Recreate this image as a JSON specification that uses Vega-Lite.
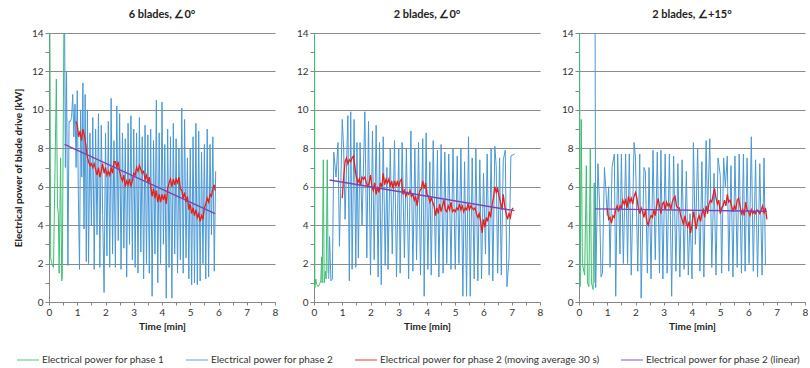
{
"$schema":"https://vega.github.io/schema/vega-lite/v6.json",
"padding":{"left":13,"top":9,"right":0,"bottom":0},
"config":{"font":"Lato","view":{"stroke":null},
"axis":{"domainColor":"#868686","tickColor":"#868686","gridColor":"#8c8c8c","gridWidth":1.2,"labelFontSize":10,"labelColor":"#333333","titleFontSize":10,"titleFontWeight":"bold","titleColor":"#222222"},
"title":{"fontSize":11,"fontWeight":"bold","color":"#222222","offset":8},
"legend":{"orient":"none","legendX":-33,"legendY":315,"direction":"horizontal","symbolType":"stroke","symbolSize":484,"symbolStrokeWidth":1.5,"symbolOpacity":0.6,"labelFontSize":10,"labelColor":"#333333","labelLimit":0,"columnPadding":18,"labelOffset":2}},
"data":{"values":[
{"p":1,"s":"g","x":0.03,"y":15},{"p":1,"s":"g","x":0.06,"y":2.3},{"p":1,"s":"g","x":0.1,"y":2.0},{"p":1,"s":"g","x":0.16,"y":1.8},{"p":1,"s":"g","x":0.26,"y":11.6},{"p":1,"s":"g","x":0.3,"y":5.0},{"p":1,"s":"g","x":0.33,"y":4.6},{"p":1,"s":"g","x":0.36,"y":1.5},{"p":1,"s":"g","x":0.41,"y":7.5},{"p":1,"s":"g","x":0.45,"y":1.1},{"p":1,"s":"g","x":0.47,"y":1.3},{"p":1,"s":"g","x":0.53,"y":15},
{"p":1,"s":"b","x":0.55,"y":15},{"p":1,"s":"b","x":0.58,"y":7.0},{"p":1,"s":"b","x":0.62,"y":12.0},{"p":1,"s":"b","x":0.67,"y":1.9},{"p":1,"s":"b","x":0.71,"y":9.4},{"p":1,"s":"b","x":0.76,"y":9.4},{"p":1,"s":"b","x":0.8,"y":9.6},{"p":1,"s":"b","x":0.84,"y":10.8},{"p":1,"s":"b","x":0.88,"y":8.6},{"p":1,"s":"b","x":0.92,"y":10.3},{"p":1,"s":"b","x":0.96,"y":7.0},{"p":1,"s":"b","x":1.0,"y":11.0},{"p":1,"s":"b","x":1.04,"y":5.4},{"p":1,"s":"b","x":1.08,"y":1.7},{"p":1,"s":"b","x":1.12,"y":10.0},{"p":1,"s":"b","x":1.16,"y":6.5},{"p":1,"s":"b","x":1.2,"y":11.4},{"p":1,"s":"b","x":1.24,"y":3.8},{"p":1,"s":"b","x":1.28,"y":10.8},{"p":1,"s":"b","x":1.32,"y":2.1},{"p":1,"s":"b","x":1.36,"y":10.0},{"p":1,"s":"b","x":1.4,"y":2.0},{"p":1,"s":"b","x":1.45,"y":8.8},{"p":1,"s":"b","x":1.5,"y":4.0},{"p":1,"s":"b","x":1.55,"y":9.6},{"p":1,"s":"b","x":1.6,"y":1.7},{"p":1,"s":"b","x":1.65,"y":9.0},{"p":1,"s":"b","x":1.7,"y":3.5},{"p":1,"s":"b","x":1.75,"y":9.8},{"p":1,"s":"b","x":1.8,"y":1.8},{"p":1,"s":"b","x":1.85,"y":9.2},{"p":1,"s":"b","x":1.9,"y":4.5},{"p":1,"s":"b","x":1.95,"y":0.5},{"p":1,"s":"b","x":2.0,"y":8.8},{"p":1,"s":"b","x":2.05,"y":2.4},{"p":1,"s":"b","x":2.1,"y":9.4},{"p":1,"s":"b","x":2.15,"y":1.8},{"p":1,"s":"b","x":2.2,"y":10.6},{"p":1,"s":"b","x":2.25,"y":2.5},{"p":1,"s":"b","x":2.3,"y":8.4},{"p":1,"s":"b","x":2.35,"y":1.8},{"p":1,"s":"b","x":2.4,"y":10.2},{"p":1,"s":"b","x":2.45,"y":3.2},{"p":1,"s":"b","x":2.5,"y":9.8},{"p":1,"s":"b","x":2.55,"y":1.7},{"p":1,"s":"b","x":2.6,"y":8.8},{"p":1,"s":"b","x":2.65,"y":2.8},{"p":1,"s":"b","x":2.7,"y":8.5},{"p":1,"s":"b","x":2.75,"y":1.3},{"p":1,"s":"b","x":2.8,"y":9.3},{"p":1,"s":"b","x":2.85,"y":3.0},{"p":1,"s":"b","x":2.9,"y":9.7},{"p":1,"s":"b","x":2.95,"y":2.2},{"p":1,"s":"b","x":3.0,"y":9.0},{"p":1,"s":"b","x":3.05,"y":1.8},{"p":1,"s":"b","x":3.1,"y":8.8},{"p":1,"s":"b","x":3.15,"y":1.5},{"p":1,"s":"b","x":3.2,"y":9.6},{"p":1,"s":"b","x":3.25,"y":2.6},{"p":1,"s":"b","x":3.3,"y":8.6},{"p":1,"s":"b","x":3.35,"y":1.2},{"p":1,"s":"b","x":3.4,"y":9.2},{"p":1,"s":"b","x":3.45,"y":2.0},{"p":1,"s":"b","x":3.5,"y":8.7},{"p":1,"s":"b","x":3.55,"y":1.5},{"p":1,"s":"b","x":3.6,"y":9.0},{"p":1,"s":"b","x":3.65,"y":0.3},{"p":1,"s":"b","x":3.7,"y":8.4},{"p":1,"s":"b","x":3.75,"y":2.5},{"p":1,"s":"b","x":3.8,"y":10.5},{"p":1,"s":"b","x":3.85,"y":1.0},{"p":1,"s":"b","x":3.9,"y":8.8},{"p":1,"s":"b","x":3.95,"y":2.0},{"p":1,"s":"b","x":4.0,"y":10.4},{"p":1,"s":"b","x":4.05,"y":3.0},{"p":1,"s":"b","x":4.1,"y":8.2},{"p":1,"s":"b","x":4.15,"y":0.2},{"p":1,"s":"b","x":4.2,"y":9.0},{"p":1,"s":"b","x":4.25,"y":1.8},{"p":1,"s":"b","x":4.3,"y":8.6},{"p":1,"s":"b","x":4.35,"y":0.2},{"p":1,"s":"b","x":4.4,"y":9.3},{"p":1,"s":"b","x":4.45,"y":2.5},{"p":1,"s":"b","x":4.5,"y":8.5},{"p":1,"s":"b","x":4.55,"y":1.5},{"p":1,"s":"b","x":4.6,"y":8.0},{"p":1,"s":"b","x":4.65,"y":2.2},{"p":1,"s":"b","x":4.7,"y":10.1},{"p":1,"s":"b","x":4.75,"y":1.5},{"p":1,"s":"b","x":4.8,"y":9.5},{"p":1,"s":"b","x":4.85,"y":2.3},{"p":1,"s":"b","x":4.9,"y":7.5},{"p":1,"s":"b","x":4.95,"y":1.2},{"p":1,"s":"b","x":5.0,"y":8.0},{"p":1,"s":"b","x":5.05,"y":0.9},{"p":1,"s":"b","x":5.1,"y":8.6},{"p":1,"s":"b","x":5.15,"y":1.0},{"p":1,"s":"b","x":5.2,"y":9.3},{"p":1,"s":"b","x":5.25,"y":0.9},{"p":1,"s":"b","x":5.3,"y":8.9},{"p":1,"s":"b","x":5.35,"y":1.1},{"p":1,"s":"b","x":5.4,"y":7.8},{"p":1,"s":"b","x":5.45,"y":2.0},{"p":1,"s":"b","x":5.5,"y":8.2},{"p":1,"s":"b","x":5.55,"y":1.2},{"p":1,"s":"b","x":5.6,"y":9.0},{"p":1,"s":"b","x":5.65,"y":1.3},{"p":1,"s":"b","x":5.7,"y":8.2},{"p":1,"s":"b","x":5.75,"y":3.5},{"p":1,"s":"b","x":5.8,"y":8.6},{"p":1,"s":"b","x":5.85,"y":1.6},{"p":1,"s":"b","x":5.9,"y":6.8},
{"p":1,"s":"r","x":0.95,"y":9.4},{"p":1,"s":"r","x":1.0,"y":9.2},{"p":1,"s":"r","x":1.05,"y":8.6},{"p":1,"s":"r","x":1.1,"y":8.9},{"p":1,"s":"r","x":1.15,"y":8.4},{"p":1,"s":"r","x":1.2,"y":9.0},{"p":1,"s":"r","x":1.25,"y":8.7},{"p":1,"s":"r","x":1.3,"y":8.2},{"p":1,"s":"r","x":1.35,"y":7.6},{"p":1,"s":"r","x":1.4,"y":7.3},{"p":1,"s":"r","x":1.45,"y":7.1},{"p":1,"s":"r","x":1.5,"y":7.2},{"p":1,"s":"r","x":1.55,"y":7.0},{"p":1,"s":"r","x":1.6,"y":7.2},{"p":1,"s":"r","x":1.65,"y":6.9},{"p":1,"s":"r","x":1.7,"y":6.6},{"p":1,"s":"r","x":1.75,"y":7.0},{"p":1,"s":"r","x":1.8,"y":6.5},{"p":1,"s":"r","x":1.85,"y":6.8},{"p":1,"s":"r","x":1.9,"y":7.2},{"p":1,"s":"r","x":1.95,"y":6.7},{"p":1,"s":"r","x":2.0,"y":7.0},{"p":1,"s":"r","x":2.05,"y":6.6},{"p":1,"s":"r","x":2.1,"y":6.8},{"p":1,"s":"r","x":2.15,"y":6.6},{"p":1,"s":"r","x":2.2,"y":7.0},{"p":1,"s":"r","x":2.25,"y":6.7},{"p":1,"s":"r","x":2.3,"y":7.3},{"p":1,"s":"r","x":2.35,"y":7.3},{"p":1,"s":"r","x":2.4,"y":7.0},{"p":1,"s":"r","x":2.45,"y":7.3},{"p":1,"s":"r","x":2.5,"y":6.8},{"p":1,"s":"r","x":2.55,"y":6.5},{"p":1,"s":"r","x":2.6,"y":6.3},{"p":1,"s":"r","x":2.65,"y":6.6},{"p":1,"s":"r","x":2.7,"y":6.0},{"p":1,"s":"r","x":2.75,"y":6.3},{"p":1,"s":"r","x":2.8,"y":6.1},{"p":1,"s":"r","x":2.85,"y":6.4},{"p":1,"s":"r","x":2.9,"y":6.0},{"p":1,"s":"r","x":2.95,"y":6.3},{"p":1,"s":"r","x":3.0,"y":6.7},{"p":1,"s":"r","x":3.05,"y":6.6},{"p":1,"s":"r","x":3.1,"y":7.0},{"p":1,"s":"r","x":3.15,"y":6.8},{"p":1,"s":"r","x":3.2,"y":7.1},{"p":1,"s":"r","x":3.25,"y":6.9},{"p":1,"s":"r","x":3.3,"y":6.7},{"p":1,"s":"r","x":3.35,"y":6.8},{"p":1,"s":"r","x":3.4,"y":6.4},{"p":1,"s":"r","x":3.45,"y":6.6},{"p":1,"s":"r","x":3.5,"y":6.2},{"p":1,"s":"r","x":3.55,"y":6.5},{"p":1,"s":"r","x":3.6,"y":6.0},{"p":1,"s":"r","x":3.65,"y":5.5},{"p":1,"s":"r","x":3.7,"y":5.9},{"p":1,"s":"r","x":3.75,"y":5.4},{"p":1,"s":"r","x":3.8,"y":5.8},{"p":1,"s":"r","x":3.85,"y":5.2},{"p":1,"s":"r","x":3.9,"y":5.6},{"p":1,"s":"r","x":3.95,"y":5.2},{"p":1,"s":"r","x":4.0,"y":5.6},{"p":1,"s":"r","x":4.05,"y":5.3},{"p":1,"s":"r","x":4.1,"y":5.6},{"p":1,"s":"r","x":4.15,"y":5.1},{"p":1,"s":"r","x":4.2,"y":5.9},{"p":1,"s":"r","x":4.25,"y":6.2},{"p":1,"s":"r","x":4.3,"y":6.4},{"p":1,"s":"r","x":4.35,"y":6.0},{"p":1,"s":"r","x":4.4,"y":6.4},{"p":1,"s":"r","x":4.45,"y":6.1},{"p":1,"s":"r","x":4.5,"y":6.4},{"p":1,"s":"r","x":4.55,"y":6.2},{"p":1,"s":"r","x":4.6,"y":6.5},{"p":1,"s":"r","x":4.65,"y":5.9},{"p":1,"s":"r","x":4.7,"y":5.8},{"p":1,"s":"r","x":4.75,"y":5.4},{"p":1,"s":"r","x":4.8,"y":5.7},{"p":1,"s":"r","x":4.85,"y":5.2},{"p":1,"s":"r","x":4.9,"y":5.5},{"p":1,"s":"r","x":4.95,"y":4.8},{"p":1,"s":"r","x":5.0,"y":5.1},{"p":1,"s":"r","x":5.05,"y":4.6},{"p":1,"s":"r","x":5.1,"y":4.9},{"p":1,"s":"r","x":5.15,"y":4.5},{"p":1,"s":"r","x":5.2,"y":4.8},{"p":1,"s":"r","x":5.25,"y":4.4},{"p":1,"s":"r","x":5.3,"y":4.6},{"p":1,"s":"r","x":5.35,"y":4.2},{"p":1,"s":"r","x":5.4,"y":4.5},{"p":1,"s":"r","x":5.45,"y":4.3},{"p":1,"s":"r","x":5.5,"y":4.9},{"p":1,"s":"r","x":5.55,"y":5.1},{"p":1,"s":"r","x":5.6,"y":5.4},{"p":1,"s":"r","x":5.65,"y":5.2},{"p":1,"s":"r","x":5.7,"y":5.6},{"p":1,"s":"r","x":5.75,"y":5.5},{"p":1,"s":"r","x":5.8,"y":5.9},{"p":1,"s":"r","x":5.85,"y":6.1},{"p":1,"s":"r","x":5.88,"y":5.8},
{"p":1,"s":"l","x":0.55,"y":8.2},{"p":1,"s":"l","x":5.88,"y":4.6},
{"p":2,"s":"g","x":0.02,"y":15},{"p":2,"s":"g","x":0.03,"y":0.75},{"p":2,"s":"g","x":0.06,"y":1.2},{"p":2,"s":"g","x":0.1,"y":0.9},{"p":2,"s":"g","x":0.15,"y":0.8},{"p":2,"s":"g","x":0.2,"y":0.95},{"p":2,"s":"g","x":0.24,"y":1.1},{"p":2,"s":"g","x":0.27,"y":2.35},{"p":2,"s":"g","x":0.29,"y":1.0},{"p":2,"s":"g","x":0.33,"y":7.4},{"p":2,"s":"g","x":0.36,"y":1.0},{"p":2,"s":"g","x":0.4,"y":1.6},{"p":2,"s":"g","x":0.43,"y":1.2},{"p":2,"s":"g","x":0.47,"y":7.4},{"p":2,"s":"g","x":0.5,"y":1.5},
{"p":2,"s":"b","x":0.52,"y":1.2},{"p":2,"s":"b","x":0.55,"y":3.4},{"p":2,"s":"b","x":0.6,"y":1.1},{"p":2,"s":"b","x":0.65,"y":1.2},{"p":2,"s":"b","x":0.7,"y":7.8},{"p":2,"s":"b","x":0.78,"y":6.5},{"p":2,"s":"b","x":0.85,"y":8.3},{"p":2,"s":"b","x":0.9,"y":2.9},{"p":2,"s":"b","x":1.0,"y":9.5},{"p":2,"s":"b","x":1.05,"y":8.0},{"p":2,"s":"b","x":1.1,"y":4.3},{"p":2,"s":"b","x":1.2,"y":9.7},{"p":2,"s":"b","x":1.25,"y":1.1},{"p":2,"s":"b","x":1.3,"y":9.9},{"p":2,"s":"b","x":1.35,"y":1.7},{"p":2,"s":"b","x":1.42,"y":9.5},{"p":2,"s":"b","x":1.48,"y":1.8},{"p":2,"s":"b","x":1.52,"y":8.3},{"p":2,"s":"b","x":1.57,"y":2.3},{"p":2,"s":"b","x":1.63,"y":8.3},{"p":2,"s":"b","x":1.7,"y":4.0},{"p":2,"s":"b","x":1.8,"y":9.9},{"p":2,"s":"b","x":1.87,"y":2.3},{"p":2,"s":"b","x":1.93,"y":9.4},{"p":2,"s":"b","x":2.0,"y":1.4},{"p":2,"s":"b","x":2.07,"y":8.9},{"p":2,"s":"b","x":2.13,"y":2.2},{"p":2,"s":"b","x":2.2,"y":9.2},{"p":2,"s":"b","x":2.27,"y":1.3},{"p":2,"s":"b","x":2.32,"y":8.3},{"p":2,"s":"b","x":2.38,"y":0.9},{"p":2,"s":"b","x":2.45,"y":8.6},{"p":2,"s":"b","x":2.52,"y":1.9},{"p":2,"s":"b","x":2.58,"y":7.0},{"p":2,"s":"b","x":2.62,"y":1.7},{"p":2,"s":"b","x":2.7,"y":8.0},{"p":2,"s":"b","x":2.77,"y":2.5},{"p":2,"s":"b","x":2.85,"y":8.4},{"p":2,"s":"b","x":2.92,"y":1.3},{"p":2,"s":"b","x":3.0,"y":8.0},{"p":2,"s":"b","x":3.05,"y":1.5},{"p":2,"s":"b","x":3.12,"y":8.3},{"p":2,"s":"b","x":3.2,"y":2.3},{"p":2,"s":"b","x":3.27,"y":8.0},{"p":2,"s":"b","x":3.35,"y":1.2},{"p":2,"s":"b","x":3.43,"y":8.9},{"p":2,"s":"b","x":3.5,"y":1.6},{"p":2,"s":"b","x":3.57,"y":8.0},{"p":2,"s":"b","x":3.63,"y":2.2},{"p":2,"s":"b","x":3.7,"y":8.3},{"p":2,"s":"b","x":3.77,"y":1.4},{"p":2,"s":"b","x":3.85,"y":8.5},{"p":2,"s":"b","x":3.9,"y":0.3},{"p":2,"s":"b","x":3.97,"y":8.8},{"p":2,"s":"b","x":4.03,"y":1.7},{"p":2,"s":"b","x":4.1,"y":7.3},{"p":2,"s":"b","x":4.15,"y":1.4},{"p":2,"s":"b","x":4.22,"y":8.4},{"p":2,"s":"b","x":4.3,"y":2.0},{"p":2,"s":"b","x":4.37,"y":7.9},{"p":2,"s":"b","x":4.42,"y":1.3},{"p":2,"s":"b","x":4.5,"y":8.2},{"p":2,"s":"b","x":4.57,"y":1.5},{"p":2,"s":"b","x":4.63,"y":7.8},{"p":2,"s":"b","x":4.7,"y":2.0},{"p":2,"s":"b","x":4.77,"y":7.7},{"p":2,"s":"b","x":4.85,"y":1.7},{"p":2,"s":"b","x":4.92,"y":8.0},{"p":2,"s":"b","x":5.0,"y":1.7},{"p":2,"s":"b","x":5.07,"y":7.6},{"p":2,"s":"b","x":5.13,"y":2.0},{"p":2,"s":"b","x":5.2,"y":8.0},{"p":2,"s":"b","x":5.27,"y":0.3},{"p":2,"s":"b","x":5.33,"y":7.3},{"p":2,"s":"b","x":5.4,"y":0.3},{"p":2,"s":"b","x":5.47,"y":8.6},{"p":2,"s":"b","x":5.53,"y":0.3},{"p":2,"s":"b","x":5.6,"y":7.5},{"p":2,"s":"b","x":5.67,"y":1.2},{"p":2,"s":"b","x":5.73,"y":8.0},{"p":2,"s":"b","x":5.8,"y":1.1},{"p":2,"s":"b","x":5.87,"y":7.4},{"p":2,"s":"b","x":5.93,"y":1.2},{"p":2,"s":"b","x":6.0,"y":6.7},{"p":2,"s":"b","x":6.07,"y":2.5},{"p":2,"s":"b","x":6.13,"y":7.7},{"p":2,"s":"b","x":6.2,"y":1.4},{"p":2,"s":"b","x":6.27,"y":8.0},{"p":2,"s":"b","x":6.33,"y":1.1},{"p":2,"s":"b","x":6.4,"y":8.1},{"p":2,"s":"b","x":6.45,"y":7.1},{"p":2,"s":"b","x":6.5,"y":1.5},{"p":2,"s":"b","x":6.57,"y":7.5},{"p":2,"s":"b","x":6.63,"y":1.4},{"p":2,"s":"b","x":6.7,"y":7.4},{"p":2,"s":"b","x":6.77,"y":7.9},{"p":2,"s":"b","x":6.83,"y":0.8},{"p":2,"s":"b","x":6.9,"y":2.2},{"p":2,"s":"b","x":6.97,"y":7.6},{"p":2,"s":"b","x":7.1,"y":7.7},
{"p":2,"s":"r","x":1.0,"y":5.4},{"p":2,"s":"r","x":1.05,"y":6.5},{"p":2,"s":"r","x":1.1,"y":7.3},{"p":2,"s":"r","x":1.15,"y":7.5},{"p":2,"s":"r","x":1.2,"y":7.2},{"p":2,"s":"r","x":1.25,"y":7.4},{"p":2,"s":"r","x":1.3,"y":7.3},{"p":2,"s":"r","x":1.35,"y":7.5},{"p":2,"s":"r","x":1.4,"y":7.6},{"p":2,"s":"r","x":1.45,"y":7.0},{"p":2,"s":"r","x":1.5,"y":6.5},{"p":2,"s":"r","x":1.55,"y":6.2},{"p":2,"s":"r","x":1.6,"y":6.4},{"p":2,"s":"r","x":1.65,"y":6.1},{"p":2,"s":"r","x":1.7,"y":6.5},{"p":2,"s":"r","x":1.75,"y":6.4},{"p":2,"s":"r","x":1.8,"y":6.5},{"p":2,"s":"r","x":1.85,"y":6.2},{"p":2,"s":"r","x":1.9,"y":6.0},{"p":2,"s":"r","x":1.95,"y":6.2},{"p":2,"s":"r","x":2.0,"y":6.6},{"p":2,"s":"r","x":2.05,"y":6.0},{"p":2,"s":"r","x":2.1,"y":5.8},{"p":2,"s":"r","x":2.15,"y":6.2},{"p":2,"s":"r","x":2.2,"y":5.6},{"p":2,"s":"r","x":2.25,"y":6.0},{"p":2,"s":"r","x":2.3,"y":5.7},{"p":2,"s":"r","x":2.35,"y":6.2},{"p":2,"s":"r","x":2.4,"y":6.0},{"p":2,"s":"r","x":2.45,"y":6.7},{"p":2,"s":"r","x":2.5,"y":6.1},{"p":2,"s":"r","x":2.55,"y":6.4},{"p":2,"s":"r","x":2.6,"y":6.2},{"p":2,"s":"r","x":2.65,"y":6.4},{"p":2,"s":"r","x":2.7,"y":6.0},{"p":2,"s":"r","x":2.75,"y":6.3},{"p":2,"s":"r","x":2.8,"y":5.9},{"p":2,"s":"r","x":2.85,"y":6.3},{"p":2,"s":"r","x":2.9,"y":6.0},{"p":2,"s":"r","x":2.95,"y":6.3},{"p":2,"s":"r","x":3.0,"y":6.0},{"p":2,"s":"r","x":3.05,"y":6.3},{"p":2,"s":"r","x":3.1,"y":6.4},{"p":2,"s":"r","x":3.15,"y":5.6},{"p":2,"s":"r","x":3.2,"y":5.8},{"p":2,"s":"r","x":3.25,"y":5.5},{"p":2,"s":"r","x":3.3,"y":5.7},{"p":2,"s":"r","x":3.35,"y":5.6},{"p":2,"s":"r","x":3.4,"y":5.8},{"p":2,"s":"r","x":3.45,"y":5.5},{"p":2,"s":"r","x":3.5,"y":5.6},{"p":2,"s":"r","x":3.55,"y":5.3},{"p":2,"s":"r","x":3.6,"y":5.5},{"p":2,"s":"r","x":3.65,"y":5.0},{"p":2,"s":"r","x":3.7,"y":5.5},{"p":2,"s":"r","x":3.75,"y":5.8},{"p":2,"s":"r","x":3.8,"y":5.9},{"p":2,"s":"r","x":3.85,"y":6.3},{"p":2,"s":"r","x":3.9,"y":5.9},{"p":2,"s":"r","x":3.95,"y":6.2},{"p":2,"s":"r","x":4.0,"y":5.6},{"p":2,"s":"r","x":4.05,"y":5.5},{"p":2,"s":"r","x":4.1,"y":5.2},{"p":2,"s":"r","x":4.15,"y":5.4},{"p":2,"s":"r","x":4.2,"y":5.2},{"p":2,"s":"r","x":4.25,"y":5.0},{"p":2,"s":"r","x":4.3,"y":4.5},{"p":2,"s":"r","x":4.35,"y":4.9},{"p":2,"s":"r","x":4.4,"y":4.6},{"p":2,"s":"r","x":4.45,"y":5.1},{"p":2,"s":"r","x":4.5,"y":4.7},{"p":2,"s":"r","x":4.55,"y":5.0},{"p":2,"s":"r","x":4.6,"y":5.3},{"p":2,"s":"r","x":4.65,"y":4.8},{"p":2,"s":"r","x":4.7,"y":4.7},{"p":2,"s":"r","x":4.75,"y":5.0},{"p":2,"s":"r","x":4.8,"y":4.8},{"p":2,"s":"r","x":4.85,"y":5.2},{"p":2,"s":"r","x":4.9,"y":4.7},{"p":2,"s":"r","x":4.95,"y":4.8},{"p":2,"s":"r","x":5.0,"y":4.7},{"p":2,"s":"r","x":5.05,"y":4.9},{"p":2,"s":"r","x":5.1,"y":4.8},{"p":2,"s":"r","x":5.15,"y":5.1},{"p":2,"s":"r","x":5.2,"y":4.8},{"p":2,"s":"r","x":5.25,"y":5.0},{"p":2,"s":"r","x":5.3,"y":4.7},{"p":2,"s":"r","x":5.35,"y":4.9},{"p":2,"s":"r","x":5.4,"y":4.8},{"p":2,"s":"r","x":5.45,"y":5.1},{"p":2,"s":"r","x":5.5,"y":4.8},{"p":2,"s":"r","x":5.55,"y":5.0},{"p":2,"s":"r","x":5.6,"y":4.9},{"p":2,"s":"r","x":5.65,"y":4.8},{"p":2,"s":"r","x":5.7,"y":4.9},{"p":2,"s":"r","x":5.75,"y":4.6},{"p":2,"s":"r","x":5.8,"y":4.4},{"p":2,"s":"r","x":5.85,"y":4.6},{"p":2,"s":"r","x":5.9,"y":4.2},{"p":2,"s":"r","x":5.95,"y":3.6},{"p":2,"s":"r","x":6.0,"y":4.3},{"p":2,"s":"r","x":6.05,"y":3.9},{"p":2,"s":"r","x":6.1,"y":4.4},{"p":2,"s":"r","x":6.15,"y":4.2},{"p":2,"s":"r","x":6.2,"y":4.7},{"p":2,"s":"r","x":6.25,"y":4.4},{"p":2,"s":"r","x":6.3,"y":5.0},{"p":2,"s":"r","x":6.35,"y":5.4},{"p":2,"s":"r","x":6.4,"y":6.0},{"p":2,"s":"r","x":6.45,"y":5.7},{"p":2,"s":"r","x":6.5,"y":5.9},{"p":2,"s":"r","x":6.55,"y":5.5},{"p":2,"s":"r","x":6.6,"y":5.2},{"p":2,"s":"r","x":6.65,"y":4.8},{"p":2,"s":"r","x":6.7,"y":5.6},{"p":2,"s":"r","x":6.75,"y":5.0},{"p":2,"s":"r","x":6.8,"y":4.6},{"p":2,"s":"r","x":6.85,"y":4.3},{"p":2,"s":"r","x":6.9,"y":4.6},{"p":2,"s":"r","x":6.95,"y":4.4},{"p":2,"s":"r","x":7.0,"y":4.8},{"p":2,"s":"r","x":7.05,"y":4.9},
{"p":2,"s":"l","x":0.55,"y":6.35},{"p":2,"s":"l","x":7.1,"y":4.75},
{"p":3,"s":"g","x":0.02,"y":15},{"p":3,"s":"g","x":0.04,"y":0.8},{"p":3,"s":"g","x":0.08,"y":9.5},{"p":3,"s":"g","x":0.12,"y":2.0},{"p":3,"s":"g","x":0.2,"y":1.4},{"p":3,"s":"g","x":0.26,"y":7.1},{"p":3,"s":"g","x":0.3,"y":1.0},{"p":3,"s":"g","x":0.35,"y":0.8},{"p":3,"s":"g","x":0.4,"y":8.0},{"p":3,"s":"g","x":0.44,"y":1.0},{"p":3,"s":"g","x":0.5,"y":0.65},{"p":3,"s":"g","x":0.54,"y":6.2},{"p":3,"s":"g","x":0.56,"y":1.0},
{"p":3,"s":"b","x":0.57,"y":15},{"p":3,"s":"b","x":0.59,"y":0.75},{"p":3,"s":"b","x":0.67,"y":7.2},{"p":3,"s":"b","x":0.73,"y":5.0},{"p":3,"s":"b","x":0.78,"y":1.3},{"p":3,"s":"b","x":0.83,"y":1.5},{"p":3,"s":"b","x":0.9,"y":7.0},{"p":3,"s":"b","x":0.95,"y":5.9},{"p":3,"s":"b","x":1.0,"y":4.5},{"p":3,"s":"b","x":1.05,"y":6.0},{"p":3,"s":"b","x":1.1,"y":1.8},{"p":3,"s":"b","x":1.17,"y":7.0},{"p":3,"s":"b","x":1.25,"y":7.7},{"p":3,"s":"b","x":1.3,"y":0.3},{"p":3,"s":"b","x":1.37,"y":7.7},{"p":3,"s":"b","x":1.45,"y":2.5},{"p":3,"s":"b","x":1.5,"y":7.7},{"p":3,"s":"b","x":1.57,"y":2.0},{"p":3,"s":"b","x":1.65,"y":7.7},{"p":3,"s":"b","x":1.72,"y":2.0},{"p":3,"s":"b","x":1.78,"y":7.7},{"p":3,"s":"b","x":1.85,"y":1.4},{"p":3,"s":"b","x":1.95,"y":8.3},{"p":3,"s":"b","x":2.0,"y":7.5},{"p":3,"s":"b","x":2.08,"y":1.6},{"p":3,"s":"b","x":2.15,"y":7.7},{"p":3,"s":"b","x":2.2,"y":0.2},{"p":3,"s":"b","x":2.3,"y":7.0},{"p":3,"s":"b","x":2.35,"y":6.8},{"p":3,"s":"b","x":2.42,"y":1.5},{"p":3,"s":"b","x":2.48,"y":7.0},{"p":3,"s":"b","x":2.55,"y":1.2},{"p":3,"s":"b","x":2.62,"y":7.9},{"p":3,"s":"b","x":2.7,"y":2.2},{"p":3,"s":"b","x":2.77,"y":7.8},{"p":3,"s":"b","x":2.85,"y":1.5},{"p":3,"s":"b","x":2.9,"y":7.9},{"p":3,"s":"b","x":2.97,"y":1.2},{"p":3,"s":"b","x":3.05,"y":7.7},{"p":3,"s":"b","x":3.12,"y":1.5},{"p":3,"s":"b","x":3.2,"y":7.7},{"p":3,"s":"b","x":3.28,"y":0.3},{"p":3,"s":"b","x":3.35,"y":7.6},{"p":3,"s":"b","x":3.43,"y":1.6},{"p":3,"s":"b","x":3.5,"y":7.2},{"p":3,"s":"b","x":3.57,"y":1.3},{"p":3,"s":"b","x":3.65,"y":7.4},{"p":3,"s":"b","x":3.72,"y":1.7},{"p":3,"s":"b","x":3.8,"y":6.8},{"p":3,"s":"b","x":3.87,"y":1.4},{"p":3,"s":"b","x":3.93,"y":4.6},{"p":3,"s":"b","x":4.0,"y":1.2},{"p":3,"s":"b","x":4.05,"y":8.3},{"p":3,"s":"b","x":4.12,"y":3.0},{"p":3,"s":"b","x":4.2,"y":8.0},{"p":3,"s":"b","x":4.28,"y":1.6},{"p":3,"s":"b","x":4.35,"y":7.3},{"p":3,"s":"b","x":4.42,"y":1.3},{"p":3,"s":"b","x":4.5,"y":8.4},{"p":3,"s":"b","x":4.55,"y":4.6},{"p":3,"s":"b","x":4.63,"y":8.5},{"p":3,"s":"b","x":4.7,"y":1.8},{"p":3,"s":"b","x":4.78,"y":6.7},{"p":3,"s":"b","x":4.85,"y":1.4},{"p":3,"s":"b","x":4.92,"y":7.5},{"p":3,"s":"b","x":5.0,"y":6.6},{"p":3,"s":"b","x":5.05,"y":1.5},{"p":3,"s":"b","x":5.12,"y":7.5},{"p":3,"s":"b","x":5.18,"y":6.0},{"p":3,"s":"b","x":5.25,"y":7.6},{"p":3,"s":"b","x":5.3,"y":1.6},{"p":3,"s":"b","x":5.38,"y":7.1},{"p":3,"s":"b","x":5.45,"y":1.3},{"p":3,"s":"b","x":5.52,"y":7.6},{"p":3,"s":"b","x":5.6,"y":1.8},{"p":3,"s":"b","x":5.67,"y":7.7},{"p":3,"s":"b","x":5.75,"y":1.5},{"p":3,"s":"b","x":5.82,"y":7.7},{"p":3,"s":"b","x":5.88,"y":1.6},{"p":3,"s":"b","x":5.95,"y":7.5},{"p":3,"s":"b","x":6.02,"y":2.0},{"p":3,"s":"b","x":6.1,"y":8.6},{"p":3,"s":"b","x":6.17,"y":1.6},{"p":3,"s":"b","x":6.25,"y":7.4},{"p":3,"s":"b","x":6.32,"y":1.3},{"p":3,"s":"b","x":6.4,"y":7.2},{"p":3,"s":"b","x":6.48,"y":1.4},{"p":3,"s":"b","x":6.55,"y":7.5},{"p":3,"s":"b","x":6.6,"y":1.9},
{"p":3,"s":"r","x":1.0,"y":4.9},{"p":3,"s":"r","x":1.05,"y":4.3},{"p":3,"s":"r","x":1.1,"y":4.4},{"p":3,"s":"r","x":1.15,"y":4.1},{"p":3,"s":"r","x":1.2,"y":4.5},{"p":3,"s":"r","x":1.25,"y":4.4},{"p":3,"s":"r","x":1.3,"y":4.8},{"p":3,"s":"r","x":1.35,"y":5.0},{"p":3,"s":"r","x":1.4,"y":4.7},{"p":3,"s":"r","x":1.45,"y":5.0},{"p":3,"s":"r","x":1.5,"y":4.9},{"p":3,"s":"r","x":1.55,"y":5.3},{"p":3,"s":"r","x":1.6,"y":5.1},{"p":3,"s":"r","x":1.65,"y":5.3},{"p":3,"s":"r","x":1.7,"y":4.9},{"p":3,"s":"r","x":1.75,"y":5.5},{"p":3,"s":"r","x":1.8,"y":5.2},{"p":3,"s":"r","x":1.85,"y":5.4},{"p":3,"s":"r","x":1.9,"y":5.1},{"p":3,"s":"r","x":1.95,"y":5.5},{"p":3,"s":"r","x":2.0,"y":5.7},{"p":3,"s":"r","x":2.05,"y":5.4},{"p":3,"s":"r","x":2.1,"y":4.9},{"p":3,"s":"r","x":2.15,"y":4.6},{"p":3,"s":"r","x":2.2,"y":4.9},{"p":3,"s":"r","x":2.25,"y":4.7},{"p":3,"s":"r","x":2.3,"y":4.4},{"p":3,"s":"r","x":2.35,"y":4.8},{"p":3,"s":"r","x":2.4,"y":4.2},{"p":3,"s":"r","x":2.45,"y":4.0},{"p":3,"s":"r","x":2.5,"y":4.3},{"p":3,"s":"r","x":2.55,"y":4.5},{"p":3,"s":"r","x":2.6,"y":4.4},{"p":3,"s":"r","x":2.65,"y":4.8},{"p":3,"s":"r","x":2.7,"y":4.5},{"p":3,"s":"r","x":2.75,"y":5.0},{"p":3,"s":"r","x":2.8,"y":5.4},{"p":3,"s":"r","x":2.85,"y":5.0},{"p":3,"s":"r","x":2.9,"y":4.6},{"p":3,"s":"r","x":2.95,"y":5.1},{"p":3,"s":"r","x":3.0,"y":5.2},{"p":3,"s":"r","x":3.05,"y":4.8},{"p":3,"s":"r","x":3.1,"y":5.2},{"p":3,"s":"r","x":3.15,"y":5.0},{"p":3,"s":"r","x":3.2,"y":5.1},{"p":3,"s":"r","x":3.25,"y":4.8},{"p":3,"s":"r","x":3.3,"y":5.2},{"p":3,"s":"r","x":3.35,"y":5.4},{"p":3,"s":"r","x":3.4,"y":5.5},{"p":3,"s":"r","x":3.45,"y":5.0},{"p":3,"s":"r","x":3.5,"y":4.9},{"p":3,"s":"r","x":3.55,"y":4.9},{"p":3,"s":"r","x":3.6,"y":4.5},{"p":3,"s":"r","x":3.65,"y":4.3},{"p":3,"s":"r","x":3.7,"y":4.0},{"p":3,"s":"r","x":3.75,"y":4.5},{"p":3,"s":"r","x":3.8,"y":4.1},{"p":3,"s":"r","x":3.85,"y":3.9},{"p":3,"s":"r","x":3.9,"y":4.2},{"p":3,"s":"r","x":3.95,"y":3.6},{"p":3,"s":"r","x":4.0,"y":4.0},{"p":3,"s":"r","x":4.05,"y":4.7},{"p":3,"s":"r","x":4.1,"y":4.3},{"p":3,"s":"r","x":4.15,"y":3.8},{"p":3,"s":"r","x":4.2,"y":4.3},{"p":3,"s":"r","x":4.25,"y":4.5},{"p":3,"s":"r","x":4.3,"y":4.2},{"p":3,"s":"r","x":4.35,"y":4.6},{"p":3,"s":"r","x":4.4,"y":4.8},{"p":3,"s":"r","x":4.45,"y":4.4},{"p":3,"s":"r","x":4.5,"y":5.0},{"p":3,"s":"r","x":4.55,"y":4.6},{"p":3,"s":"r","x":4.6,"y":5.1},{"p":3,"s":"r","x":4.65,"y":5.3},{"p":3,"s":"r","x":4.7,"y":5.2},{"p":3,"s":"r","x":4.75,"y":5.6},{"p":3,"s":"r","x":4.8,"y":5.9},{"p":3,"s":"r","x":4.85,"y":5.4},{"p":3,"s":"r","x":4.9,"y":5.1},{"p":3,"s":"r","x":4.95,"y":5.3},{"p":3,"s":"r","x":5.0,"y":4.6},{"p":3,"s":"r","x":5.05,"y":4.9},{"p":3,"s":"r","x":5.1,"y":5.0},{"p":3,"s":"r","x":5.15,"y":5.3},{"p":3,"s":"r","x":5.2,"y":5.0},{"p":3,"s":"r","x":5.25,"y":5.6},{"p":3,"s":"r","x":5.3,"y":5.2},{"p":3,"s":"r","x":5.35,"y":5.3},{"p":3,"s":"r","x":5.4,"y":5.0},{"p":3,"s":"r","x":5.45,"y":4.7},{"p":3,"s":"r","x":5.5,"y":5.0},{"p":3,"s":"r","x":5.55,"y":4.8},{"p":3,"s":"r","x":5.6,"y":5.3},{"p":3,"s":"r","x":5.65,"y":5.4},{"p":3,"s":"r","x":5.7,"y":5.0},{"p":3,"s":"r","x":5.75,"y":4.6},{"p":3,"s":"r","x":5.8,"y":4.8},{"p":3,"s":"r","x":5.85,"y":4.5},{"p":3,"s":"r","x":5.9,"y":5.2},{"p":3,"s":"r","x":5.95,"y":4.8},{"p":3,"s":"r","x":6.0,"y":4.7},{"p":3,"s":"r","x":6.05,"y":4.5},{"p":3,"s":"r","x":6.1,"y":4.8},{"p":3,"s":"r","x":6.15,"y":4.6},{"p":3,"s":"r","x":6.2,"y":4.7},{"p":3,"s":"r","x":6.25,"y":4.6},{"p":3,"s":"r","x":6.3,"y":4.8},{"p":3,"s":"r","x":6.35,"y":4.7},{"p":3,"s":"r","x":6.4,"y":4.6},{"p":3,"s":"r","x":6.45,"y":4.8},{"p":3,"s":"r","x":6.5,"y":5.0},{"p":3,"s":"r","x":6.55,"y":4.6},{"p":3,"s":"r","x":6.6,"y":4.9},{"p":3,"s":"r","x":6.65,"y":4.3},
{"p":3,"s":"l","x":0.57,"y":4.85},{"p":3,"s":"l","x":6.65,"y":4.72}
]},
"spacing":18,
"hconcat":[
{"width":226,"height":269,"title":"6 blades, ∠0°","transform":[{"filter":"datum.p==1"}],
"encoding":{
"x":{"field":"x","type":"quantitative","scale":{"domain":[0,8],"nice":false},"axis":{"title":"Time [min]","values":[0,0.5,1,1.5,2,2.5,3,3.5,4,4.5,5,5.5,6,6.5,7,7.5,8],"labelExpr":"datum.value % 1 === 0 ? format(datum.value,'d') : ''","grid":false,"tickSize":3,"labelPadding":2,"labelFlush":false}},
"y":{"field":"y","type":"quantitative","scale":{"domain":[0,14],"nice":false},"axis":{"title":"Electrical power of blade drive [kW]","values":[0,1,2,3,4,5,6,7,8,9,10,11,12,13,14],"labelExpr":"datum.value % 2 === 0 ? format(datum.value,'d') : ''","grid":true,"gridOpacity":{"condition":{"test":"datum.value % 2 === 1","value":0},"value":1},"tickSize":4,"labelPadding":2,"titlePadding":8}},
"color":{"field":"s","type":"nominal","scale":{"domain":["g","b","r","l"],"range":["#3fbf74","#4a98d6","#e8201c","#7e44b0"]},"legend":{"title":null,"labelExpr":"{'g':'Electrical power for phase 1','b':'Electrical power for phase 2','r':'Electrical power for phase 2 (moving average 30 s)','l':'Electrical power for phase 2 (linear)'}[datum.value]"}}},
"layer":[
{"transform":[{"filter":"datum.s=='g'"}],"mark":{"type":"line","strokeWidth":1,"clip":true}},
{"transform":[{"filter":"datum.s=='b'"}],"mark":{"type":"line","strokeWidth":1,"clip":true}},
{"transform":[{"filter":"datum.s=='r'"}],"mark":{"type":"line","strokeWidth":1.3,"clip":true}},
{"transform":[{"filter":"datum.s=='l'"}],"mark":{"type":"line","strokeWidth":1.3,"clip":true}}
]},
{"width":226,"height":269,"title":"2 blades, ∠0°","transform":[{"filter":"datum.p==2"}],
"encoding":{
"x":{"field":"x","type":"quantitative","scale":{"domain":[0,8],"nice":false},"axis":{"title":"Time [min]","values":[0,0.5,1,1.5,2,2.5,3,3.5,4,4.5,5,5.5,6,6.5,7,7.5,8],"labelExpr":"datum.value % 1 === 0 ? format(datum.value,'d') : ''","grid":false,"tickSize":3,"labelPadding":2,"labelFlush":false}},
"y":{"field":"y","type":"quantitative","scale":{"domain":[0,14],"nice":false},"axis":{"title":null,"values":[0,1,2,3,4,5,6,7,8,9,10,11,12,13,14],"labelExpr":"datum.value % 2 === 0 ? format(datum.value,'d') : ''","grid":true,"gridOpacity":{"condition":{"test":"datum.value % 2 === 1","value":0},"value":1},"tickSize":4,"labelPadding":2}},
"color":{"field":"s","type":"nominal","scale":{"domain":["g","b","r","l"],"range":["#3fbf74","#4a98d6","#e8201c","#7e44b0"]},"legend":{"title":null,"labelExpr":"{'g':'Electrical power for phase 1','b':'Electrical power for phase 2','r':'Electrical power for phase 2 (moving average 30 s)','l':'Electrical power for phase 2 (linear)'}[datum.value]"}}},
"layer":[
{"transform":[{"filter":"datum.s=='g'"}],"mark":{"type":"line","strokeWidth":1,"clip":true}},
{"transform":[{"filter":"datum.s=='b'"}],"mark":{"type":"line","strokeWidth":1,"clip":true}},
{"transform":[{"filter":"datum.s=='r'"}],"mark":{"type":"line","strokeWidth":1.3,"clip":true}},
{"transform":[{"filter":"datum.s=='l'"}],"mark":{"type":"line","strokeWidth":1.3,"clip":true}}
]},
{"width":226,"height":269,"title":"2 blades, ∠+15°","transform":[{"filter":"datum.p==3"}],
"encoding":{
"x":{"field":"x","type":"quantitative","scale":{"domain":[0,8],"nice":false},"axis":{"title":"Time [min]","values":[0,0.5,1,1.5,2,2.5,3,3.5,4,4.5,5,5.5,6,6.5,7,7.5,8],"labelExpr":"datum.value % 1 === 0 ? format(datum.value,'d') : ''","grid":false,"tickSize":3,"labelPadding":2,"labelFlush":false}},
"y":{"field":"y","type":"quantitative","scale":{"domain":[0,14],"nice":false},"axis":{"title":null,"values":[0,1,2,3,4,5,6,7,8,9,10,11,12,13,14],"labelExpr":"datum.value % 2 === 0 ? format(datum.value,'d') : ''","grid":true,"gridOpacity":{"condition":{"test":"datum.value % 2 === 1","value":0},"value":1},"tickSize":4,"labelPadding":2}},
"color":{"field":"s","type":"nominal","scale":{"domain":["g","b","r","l"],"range":["#3fbf74","#4a98d6","#e8201c","#7e44b0"]},"legend":{"title":null,"labelExpr":"{'g':'Electrical power for phase 1','b':'Electrical power for phase 2','r':'Electrical power for phase 2 (moving average 30 s)','l':'Electrical power for phase 2 (linear)'}[datum.value]"}}},
"layer":[
{"transform":[{"filter":"datum.s=='g'"}],"mark":{"type":"line","strokeWidth":1,"clip":true}},
{"transform":[{"filter":"datum.s=='b'"}],"mark":{"type":"line","strokeWidth":1,"clip":true}},
{"transform":[{"filter":"datum.s=='r'"}],"mark":{"type":"line","strokeWidth":1.3,"clip":true}},
{"transform":[{"filter":"datum.s=='l'"}],"mark":{"type":"line","strokeWidth":1.3,"clip":true}}
]}
]
}
